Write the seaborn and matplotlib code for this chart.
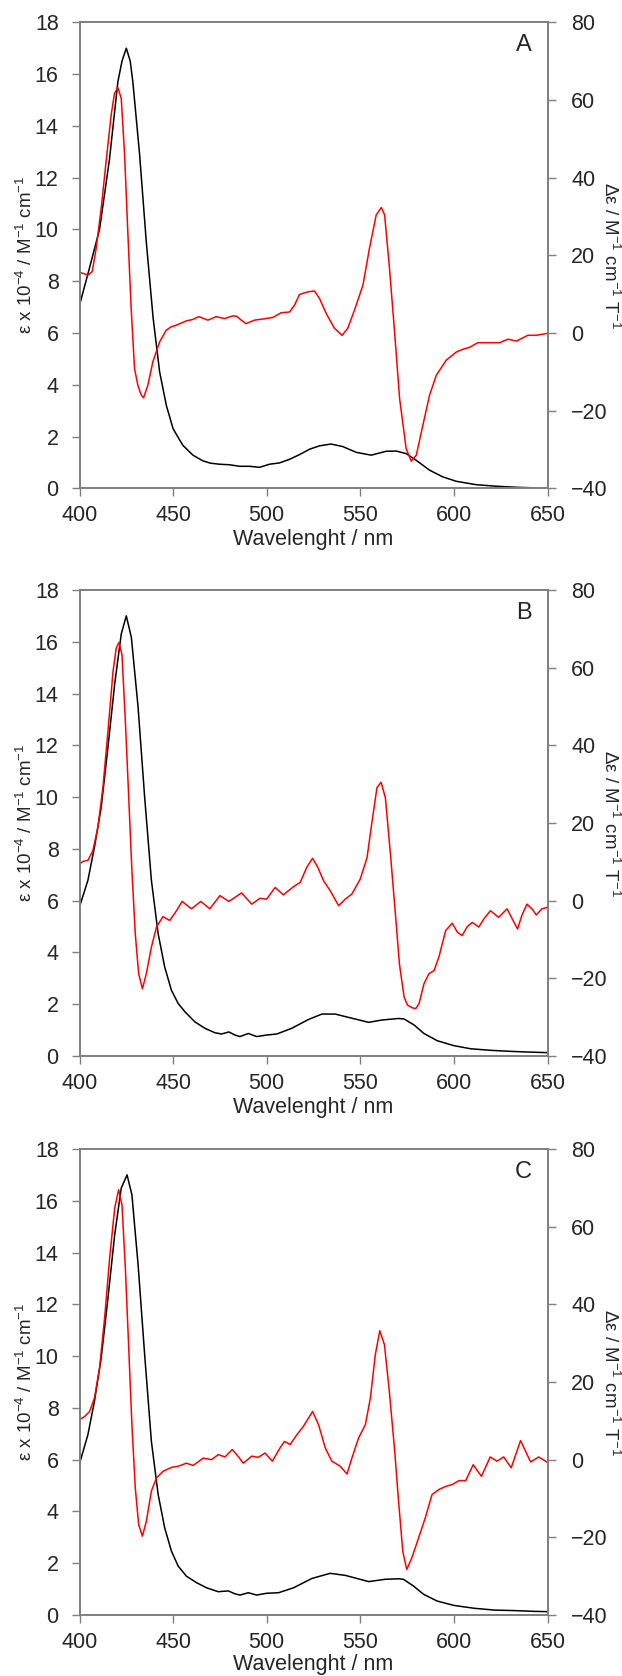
import numpy as np
import pandas as pd
import seaborn as sns
import matplotlib
matplotlib.use("Agg")
import matplotlib.pyplot as plt

# ---- panel A ----
wl_abs_A = [400, 405.3, 410.7, 416.0, 420.5, 422.7, 425.0, 427.1, 428.5, 432.1, 435.7, 439.3,
            442.8, 446.4, 450.0, 455.2, 460.6, 465.9, 470.0, 474.8, 480.1, 485.5, 490.8,
            496.2, 501.5, 506.8, 512.2, 517.5, 522.9, 528.2, 534.4, 540.7, 547.8, 555.8,
            563.8, 569.2, 574.5, 579.9, 587.0, 594.1, 601.3, 611.9, 622.6, 633.3, 650]
eps_A = [7.07, 8.5, 10.0, 12.7, 15.7, 16.5, 17.0, 16.5, 15.7, 12.9, 9.5, 6.6,
         4.5, 3.2, 2.3, 1.66, 1.28, 1.06, 0.97, 0.93, 0.91, 0.85, 0.85,
         0.81, 0.93, 0.98, 1.12, 1.30, 1.51, 1.64, 1.71, 1.61, 1.39, 1.28,
         1.43, 1.44, 1.34, 1.08, 0.70, 0.44, 0.27, 0.14, 0.08, 0.04, 0.0]
wl_mcd_A = [400, 402.2, 404.5, 406.8, 408.9, 411.6, 414.2, 416.9, 418.7, 420.5, 422.3, 424.1,
            425.8, 427.6, 429.4, 431.2, 433.0, 434.2, 436.5, 439.2, 442.8, 446.3, 449.0,
            451.7, 457.0, 460.6, 463.8, 468.6, 473.0, 477.5, 481.9, 484.0, 486.4, 489.0,
            493.5, 497.9, 503.3, 507.7, 512.2, 514.9, 517.5, 522.0, 525.5, 528.2, 531.8,
            536.2, 540.3, 543.3, 546.9, 551.4, 554.9, 558.5, 561.2, 563.0, 565.6, 568.3,
            571.0, 574.5, 577.2, 579.9, 583.4, 587.0, 590.6, 595.9, 601.3, 604.8, 608.4,
            612.8, 617.3, 624.4, 628.9, 633.3, 639.5, 644.0, 650]
de_A = [15.6, 15.3, 14.9, 15.8, 21.8, 32.1, 44.1, 56.1, 61.7, 63.2, 60.4, 45.8,
        26.1, 6.3, -9.2, -13.5, -16.0, -16.7, -13.5, -7.4, -2.3, 0.7, 1.6,
        2.0, 3.1, 3.5, 4.2, 3.3, 4.2, 3.7, 4.4, 4.3, 3.3, 2.4,
        3.3, 3.6, 4.0, 5.2, 5.4, 7.2, 9.9, 10.6, 10.8, 8.9, 5.0,
        1.2, -0.6, 1.2, 5.9, 12.3, 21.8, 30.4, 32.3, 30.4, 16.6, 0.3,
        -16.9, -29.8, -33.0, -31.5, -23.8, -16.0, -10.9, -7.0, -4.9, -4.2, -3.7,
        -2.5, -2.5, -2.5, -1.6, -2.1, -0.6, -0.6, -0.1]

# ---- panel B ----
wl_abs_B = [400, 404.5, 408.0, 411.6, 415.2, 418.8, 422.3, 425.0, 427.7, 431.3, 434.8, 438.4,
            442.0, 445.5, 449.1, 452.7, 456.3, 461.6, 467.0, 472.3, 475.9, 479.8, 483.0,
            485.7, 490.2, 494.6, 500, 505.4, 513.4, 522.3, 529.5, 536.6, 543.8, 554.5,
            561.6, 570.5, 573.4, 578.7, 584.0, 591.1, 600, 608.9, 619.5, 630.1, 640.8, 650]
eps_B = [5.76, 6.79, 8.07, 9.61, 11.93, 14.37, 16.3, 17.0, 16.17, 13.47, 10.0, 6.79,
         4.73, 3.44, 2.54, 2.03, 1.71, 1.32, 1.07, 0.90, 0.85, 0.93, 0.81,
         0.75, 0.87, 0.75, 0.81, 0.85, 1.07, 1.41, 1.62, 1.62, 1.49, 1.30,
         1.39, 1.45, 1.43, 1.20, 0.87, 0.59, 0.40, 0.28, 0.22, 0.18, 0.15, 0.13]
wl_mcd_B = [400, 401.8, 404.5, 407.1, 409.8, 412.5, 415.2, 417.9, 419.6, 421.1, 422.7, 424.5,
            426.3, 428.0, 429.8, 431.6, 433.6, 435.7, 438.4, 441.1, 444.6, 448.2, 451.8,
            454.8, 459.8, 464.8, 469.6, 475.0, 479.8, 486.6, 492.0, 496.4, 500, 504.5,
            508.9, 514.3, 517.9, 521.4, 524.5, 527.3, 530.4, 533.9, 538.4, 542.0, 545.5,
            550.0, 553.6, 556.3, 558.9, 561.1, 563.4, 566.1, 568.75, 570.9, 573.4, 575.2,
            577.8, 579.6, 581.4, 584.0, 586.7, 589.4, 592.0, 595.6, 599.1, 601.8, 604.4,
            607.1, 609.8, 613.3, 616.0, 619.5, 623.9, 628.4, 631.6, 634.0, 636.3, 639.0,
            641.7, 644.0, 647.0, 650]
de_B = [9.4, 10.1, 10.4, 12.8, 18.8, 29.1, 43.6, 59.0, 65.0, 66.5, 63.3, 46.2,
        26.5, 7.7, -8.6, -18.8, -22.7, -18.8, -12.0, -6.8, -4.1, -5.1, -2.6,
        -0.2, -2.1, -0.2, -2.1, 1.3, -0.2, 2.0, -0.9, 0.6, 0.4, 3.4,
        1.5, 3.6, 4.7, 8.6, 10.9, 8.6, 5.1, 2.6, -1.3, 0.4, 1.7,
        5.6, 11.1, 20.5, 29.1, 30.5, 26.5, 12.0, -3.4, -16.3, -24.8, -26.9,
        -27.6, -27.8, -26.5, -21.4, -18.8, -18.0, -14.5, -7.7, -5.8, -8.1, -9.0,
        -6.7, -5.6, -6.8, -4.7, -2.6, -4.3, -2.1, -5.1, -7.3, -3.8, -0.9,
        -2.1, -3.7, -2.1, -1.7]

# ---- panel C ----
wl_abs_C = [400, 404.5, 408.0, 411.6, 415.2, 418.8, 422.3, 425.4, 428.0, 431.3, 434.8, 438.4,
            442.0, 445.5, 449.1, 452.7, 457.1, 462.5, 467.9, 474.1, 479.5, 483.0, 485.7,
            490.2, 494.6, 500, 506.3, 514.3, 524.1, 533.9, 542.0, 554.5, 563.4, 570.5,
            573.0, 578.4, 583.8, 591.0, 600, 610.8, 621.6, 632.4, 643.2, 650]
eps_C = [5.84, 6.97, 8.26, 9.93, 12.24, 14.69, 16.49, 17.0, 16.23, 13.53, 10.06, 6.71,
         4.66, 3.37, 2.47, 1.89, 1.50, 1.25, 1.05, 0.90, 0.93, 0.82, 0.77,
         0.86, 0.77, 0.84, 0.86, 1.05, 1.41, 1.61, 1.53, 1.29, 1.38, 1.40,
         1.38, 1.12, 0.80, 0.54, 0.37, 0.26, 0.19, 0.17, 0.14, 0.13]
wl_mcd_C = [400, 402.7, 405.4, 408.0, 410.7, 413.4, 416.1, 418.8, 420.9, 422.7, 424.5, 426.3,
            428.0, 429.8, 431.6, 433.6, 435.7, 438.4, 441.1, 444.6, 449.1, 452.7, 457.1,
            460.7, 466.1, 470.5, 474.1, 477.7, 481.6, 484.5, 487.5, 492.0, 495.5, 499.1,
            503.0, 507.1, 509.5, 512.5, 516.1, 519.6, 524.5, 527.7, 531.3, 534.8, 539.3,
            542.9, 545.5, 549.1, 552.7, 555.4, 558.0, 560.4, 562.9, 565.5, 568.4, 570.3,
            572.7, 574.8, 577.5, 581.1, 584.7, 588.3, 591.9, 595.5, 599.1, 602.7, 606.3,
            610.3, 614.7, 619.4, 623.0, 626.6, 630.6, 635.6, 641.0, 645.3, 650]
de_C = [10.3, 11.1, 12.4, 15.9, 23.6, 36.4, 51.9, 64.8, 69.5, 65.6, 49.3, 28.7,
        9.0, -7.3, -16.7, -19.7, -15.9, -8.1, -4.7, -3.0, -2.0, -1.7, -0.9,
        -1.5, 0.4, 0.0, 1.3, 0.7, 2.6, 1.0, -0.9, 0.9, 0.6, 1.7,
        -0.4, 3.0, 4.7, 3.9, 6.4, 8.6, 12.4, 9.0, 3.0, -0.4, -1.7,
        -3.7, 0.4, 5.6, 9.0, 15.9, 27.0, 33.2, 29.6, 17.6, 2.1, -9.9,
        -23.6, -28.3, -25.3, -20.2, -15.0, -9.0, -7.7, -6.9, -6.4, -5.4, -5.4,
        -1.3, -4.3, 0.7, -0.4, 0.7, -2.1, 4.9, -0.6, 0.7, -0.7]

panels = [("A", wl_abs_A, eps_A, wl_mcd_A, de_A),
          ("B", wl_abs_B, eps_B, wl_mcd_B, de_B),
          ("C", wl_abs_C, eps_C, wl_mcd_C, de_C)]

sns.set_style("ticks")
plt.rcParams['font.family'] = ['Liberation Sans', 'DejaVu Sans']
plt.rcParams['mathtext.fontset'] = 'custom'
plt.rcParams['mathtext.rm'] = 'Liberation Sans'
plt.rcParams['mathtext.default'] = 'regular'

W, H = 622, 1676
fig = plt.figure(figsize=(W / 100, H / 100), dpi=100)

spine_col = "#7f7f7f"
fs = 15.5
ax_left, ax_w, ax_h = 79.5, 468, 466
tops = [22.3, 590, 1149]
xlab_off = [51, 51, 49]  # px below the axes; last one kept inside the figure

for (letter, wa, ea, wm, dm), top, xoff in zip(panels, tops, xlab_off):
    ax = fig.add_axes([ax_left / W, 1 - (top + ax_h) / H, ax_w / W, ax_h / H])
    ax2 = ax.twinx()

    sns.lineplot(x=wa, y=ea, ax=ax, color="black", linewidth=1.1,
                 estimator=None, sort=False)
    sns.lineplot(x=wm, y=dm, ax=ax2, color="#ff0000", linewidth=1.1,
                 estimator=None, sort=False)

    ax.set_xlim(400, 650)
    ax.set_ylim(0, 18)
    ax2.set_ylim(-40, 80)
    ax.set_xticks(np.arange(400, 651, 50))
    ax.set_yticks(np.arange(0, 19, 2))
    ax2.set_yticks(np.arange(-40, 81, 20))

    for a in (ax, ax2):
        for s in a.spines.values():
            s.set_color(spine_col)
            s.set_linewidth(1.2)
    ax.tick_params(axis='x', direction='out', length=6, width=1, color=spine_col,
                   labelsize=fs, pad=6, top=False)
    ax.tick_params(axis='y', direction='out', length=6, width=1, color=spine_col,
                   labelsize=fs, pad=9, right=False)
    ax2.tick_params(axis='y', direction='out', length=6, width=1, color=spine_col,
                    labelsize=fs, pad=11)

    ax.set_xlabel("Wavelenght / nm", fontsize=fs, va='center')
    ax.xaxis.set_label_coords(0.5, -xoff / ax_h)
    ax.set_ylabel(r"ε x 10$^{-4}$ / M$^{-1}$ cm$^{-1}$", fontsize=13.5,
                  va='center', ha='center')
    ax.yaxis.set_label_coords((26 - ax_left) / ax_w, 0.5)
    ax2.set_ylabel(r"Δε / M$^{-1}$ cm$^{-1}$ T$^{-1}$", fontsize=13.5, rotation=270,
                   va='center', ha='center')
    ax2.yaxis.set_label_coords((610 - ax_left) / ax_w, 0.5)

    ax.text(0.967, 0.975, letter, transform=ax.transAxes, ha='right', va='top',
            fontsize=17)

fig.savefig("out.png", dpi=100)
